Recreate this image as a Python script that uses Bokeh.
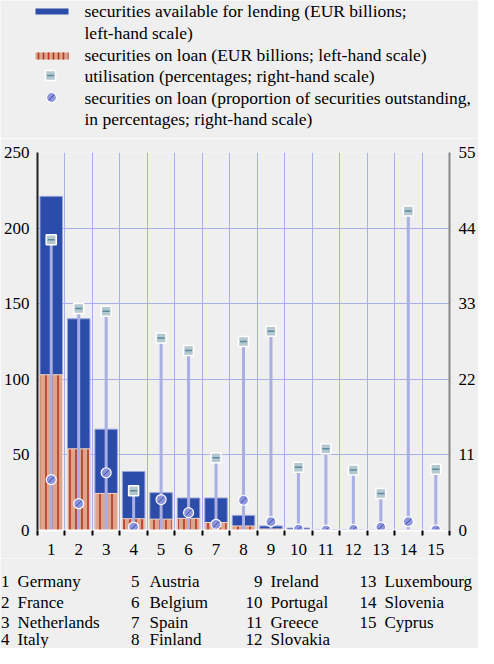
import math
from bokeh.plotting import figure
from bokeh.models import Range1d, LinearAxis, FixedTicker, ColumnDataSource
from bokeh.layouts import column
from bokeh.embed import file_html
from bokeh.resources import INLINE

# ---------------- data ----------------
codes = list(range(1, 16))
countries = ["Germany", "France", "Netherlands", "Italy", "Austria", "Belgium",
             "Spain", "Finland", "Ireland", "Portugal", "Greece", "Slovakia",
             "Luxembourg", "Slovenia", "Cyprus"]
available = [221, 140, 67, 39, 25, 21.5, 21.5, 10, 3, 1.6, 0.6, 0.5, 0.4, 0.3, 0.3]
on_loan = [103, 54, 24.5, 7.8, 7.5, 8.0, 5.3, 3.0, 1.0, 0.4, 0.1, 0.1, 0.05, 0.05, 0.05]
utilisation = [42.3, 32.3, 31.9, 5.8, 28.0, 26.2, 10.6, 27.5, 29.0, 9.2, 11.9, 8.8, 5.4, 46.5, 8.9]
prop_on_loan = [7.4, 3.9, 8.4, 0.5, 4.5, 2.6, 0.9, 4.4, 1.3, 0.2, 0.05, 0.15, 0.5, 1.3, 0.1]
left_ticks = [0, 50, 100, 150, 200, 250]
right_ticks = [0, 11, 22, 33, 44, 55]
legend_lines = ["securities available for lending (EUR billions;",
                "left-hand scale)",
                "securities on loan (EUR billions; left-hand scale)",
                "utilisation (percentages; right-hand scale)",
                "securities on loan (proportion of securities outstanding,",
                "in percentages; right-hand scale)"]

FAMILY = "Liberation Serif"
BG = "#efefef"
BLUE = "#2b4ca8"
SALMON = "#dea48c"
STRIPE = "#b0301c"
STEM = "#a9aee3"
GRID = "#a9aee6"

W = 478

# ---------------- legend figure ----------------
LH = 138
leg = figure(width=W, height=LH, x_range=Range1d(0, W), y_range=Range1d(LH, 0),
             output_backend="svg", toolbar_location=None, x_axis_type=None,
             y_axis_type=None, min_border=0, frame_align=False)
leg.grid.visible = False
leg.outline_line_color = None
leg.background_fill_color = BG
leg.border_fill_color = BG

leg.rect(x=[51.5], y=[11], width=[33], height=[6], fill_color=BLUE, line_color=None)
leg.rect(x=[51.5], y=[55.5], width=[33], height=[7], fill_color=SALMON, line_color=None,
         hatch_pattern="vertical_line", hatch_color=STRIPE, hatch_scale=5, hatch_weight=1.5)
leg.scatter(x=[50], y=[75], marker="square", size=10, fill_color="#b5c7cf",
            line_color="white", line_width=1.5)
leg.scatter(x=[50], y=[75], marker="dash", size=7, line_color="#5a8c9b", line_width=1.5)
leg.scatter(x=[51], y=[97], marker="circle", size=10, fill_color="#8c95dc",
            line_color="white", line_width=1.2)
leg.scatter(x=[51], y=[97], marker="dash", size=8, angle=math.pi / 4,
            line_color="#3d4aa0", line_width=1)
leg_src = ColumnDataSource(dict(x=[84] * 6, y=[10, 32, 54, 75, 97, 118], t=legend_lines,
                                f=[FAMILY] * 6))
leg.text(x="x", y="y", text="t", text_font="f", source=leg_src, text_font_size="17.5px",
         text_color="black", text_baseline="middle", text_align="left")

# ---------------- main chart ----------------
src = ColumnDataSource(dict(x=codes, avail=available, loan=on_loan,
                            util=utilisation, prop=prop_on_loan))

p = figure(width=W, height=420, x_range=Range1d(0.5, 15.5), y_range=Range1d(0, 250),
           output_backend="svg", toolbar_location=None, frame_align=False,
           min_border_left=34, min_border_right=27, min_border_top=14, min_border_bottom=28)
p.extra_y_ranges = {"r": Range1d(0, 55)}
p.background_fill_color = BG
p.border_fill_color = BG
p.outline_line_color = None

p.xgrid.ticker = FixedTicker(ticks=[i + 0.5 for i in range(1, 15)])
p.ygrid.ticker = FixedTicker(ticks=left_ticks)
p.grid.grid_line_color = GRID
p.grid.grid_line_width = 1

p.xaxis.ticker = FixedTicker(ticks=codes, minor_ticks=[i + 0.5 for i in range(0, 16)])
p.xaxis.major_tick_line_color = None
p.xaxis.major_tick_out = 0
p.xaxis.major_tick_in = 0
p.xaxis.minor_tick_line_color = "black"
p.xaxis.minor_tick_line_width = 2
p.xaxis.minor_tick_out = 5
p.xaxis.minor_tick_in = 0
p.xaxis.axis_line_color = "white"
p.xaxis.axis_line_width = 2
p.xaxis.major_label_standoff = 8

p.yaxis.ticker = FixedTicker(ticks=left_ticks)
p.yaxis.major_tick_line_color = None
p.yaxis.minor_tick_line_color = None
p.yaxis.major_tick_out = 0
p.yaxis.major_tick_in = 0
p.yaxis.axis_line_color = "#222222"
p.yaxis.axis_line_width = 2
p.yaxis.major_label_standoff = 8

ra = LinearAxis(y_range_name="r", ticker=FixedTicker(ticks=right_ticks))
ra.major_tick_line_color = None
ra.minor_tick_line_color = None
ra.major_tick_out = 0
ra.major_tick_in = 0
ra.axis_line_color = "#888888"
ra.axis_line_width = 2
ra.major_label_standoff = 9
p.add_layout(ra, "right")

for ax in [p.xaxis[0], p.yaxis[0], ra]:
    ax.major_label_text_font = FAMILY
    ax.major_label_text_font_size = "17px"
    ax.major_label_text_color = "black"

p.vbar(x="x", top="avail", width=0.82, source=src, fill_color=BLUE,
       line_color="#9aa3dc", line_width=1)
p.vbar(x="x", top="loan", width=0.82, source=src, fill_color=SALMON,
       line_color="#f3d8cc", line_width=1, hatch_pattern="vertical_line",
       hatch_color=STRIPE, hatch_scale=6, hatch_weight=1.5)
p.segment(x0="x", y0=0, x1="x", y1="util", source=src, y_range_name="r",
          line_color=STEM, line_width=3)
p.scatter(x="x", y="prop", source=src, y_range_name="r", marker="circle", size=10,
          fill_color="#8c95dc", line_color="white", line_width=1.2)
p.scatter(x="x", y="prop", source=src, y_range_name="r", marker="dash", size=8,
          angle=math.pi / 4, line_color="#3d4aa0", line_width=1)
p.scatter(x="x", y="util", source=src, y_range_name="r", marker="square", size=10,
          fill_color="#b5c7cf", line_color="white", line_width=1.5)
p.scatter(x="x", y="util", source=src, y_range_name="r", marker="dash", size=7,
          line_color="#5a8c9b", line_width=1.5)

# ---------------- country key ----------------
CH = 90
ck = figure(width=W, height=CH, x_range=Range1d(0, W), y_range=Range1d(CH, 0),
            output_backend="svg", toolbar_location=None, x_axis_type=None,
            y_axis_type=None, min_border=0, frame_align=False)
ck.grid.visible = False
ck.outline_line_color = None
ck.background_fill_color = BG
ck.border_fill_color = BG

num_right = [9, 139, 262, 376]
name_left = [17, 149, 270, 384]
row_y = [23, 44, 64, 81]
nx, ny, nt, mx, mt = [], [], [], [], []
for i, (c, name) in enumerate(zip(codes, countries)):
    col, row = i // 4, i % 4
    nx.append(num_right[col]); ny.append(row_y[row]); nt.append(str(c))
    mx.append(name_left[col]); mt.append(name)
ck_num = ColumnDataSource(dict(x=nx, y=ny, t=nt, f=[FAMILY] * len(nt)))
ck_name = ColumnDataSource(dict(x=mx, y=ny, t=mt, f=[FAMILY] * len(mt)))
ck.text(x="x", y="y", text="t", text_font="f", source=ck_num, text_font_size="17px",
        text_color="black", text_baseline="middle", text_align="right")
ck.text(x="x", y="y", text="t", text_font="f", source=ck_name, text_font_size="17px",
        text_color="black", text_baseline="middle", text_align="left")

layout = column(leg, p, ck)
open("out.html", "w").write(file_html(layout, INLINE))
